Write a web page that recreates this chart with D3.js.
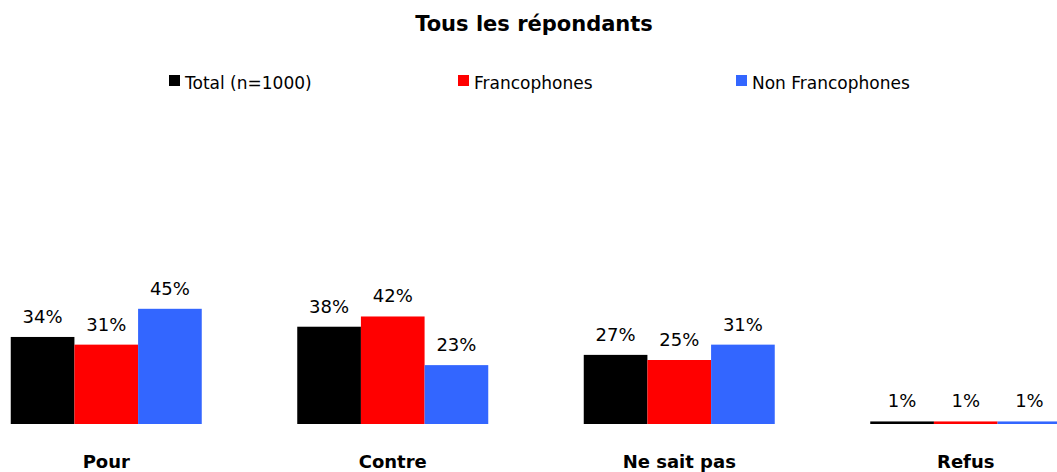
<!DOCTYPE html>
<html>
<head>
<meta charset="utf-8">
<script src="https://cdn.jsdelivr.net/npm/d3@7"></script>
<style>
  body { margin: 0; background: #fff; }
  svg { display: block; font-family: "DejaVu Sans", Verdana, sans-serif; }
</style>
</head>
<body>
<div class="container"></div>
<script>
const width = 1057;
const height = 472;
const categories = ['Pour', 'Contre', 'Ne sait pas', 'Refus'];
const seriesNames = ['Total (n=1000)', 'Francophones', 'Non Francophones'];
const seriesColors = ['#000000', '#ff0000', '#3366ff'];
const totalValues = [34, 38, 27, 1];
const francoValues = [31, 42, 25, 1];
const nonFrancoValues = [45, 23, 31, 1];
const title = 'Tous les répondants';

const allValues = [totalValues, francoValues, nonFrancoValues];
const rows = categories.map((c, i) => ({
    cat: c,
    vals: seriesNames.map((s, j) => ({ series: j, value: allValues[j][i] })),
}));

// plot area runs a bit past both edges, like the original
const x0 = d3.scaleBand().domain(categories).range([-37, 1109]);
const step = x0.bandwidth();
const x1 = d3.scaleBand().domain(d3.range(seriesNames.length)).range([step / 6, step * 5 / 6]);
const y = d3.scaleLinear().domain([0, 100]).range([424, 168]);

const svg = d3.select('.container')
    .append('svg')
    .attr('width', width)
    .attr('height', height);

svg.append('text')
    .attr('x', 534)
    .attr('y', 31)
    .attr('text-anchor', 'middle')
    .attr('font-weight', 'bold')
    .attr('font-size', 21)
    .text(title);

// legend
const legendX = [169, 458, 736];
const legend = svg.selectAll('.legend')
    .data(seriesNames)
    .enter()
    .append('g')
    .attr('class', 'legend')
    .attr('transform', (d, i) => `translate(${legendX[i]},75)`);
legend.append('rect')
    .attr('width', 11)
    .attr('height', 11)
    .attr('fill', (d, i) => seriesColors[i]);
legend.append('text')
    .attr('x', 16)
    .attr('y', 14)
    .attr('font-size', 17)
    .attr('fill', '#000')
    .text(d => d);

const group = svg.selectAll('.group')
    .data(rows)
    .enter()
    .append('g')
    .attr('class', 'group')
    .attr('transform', d => `translate(${x0(d.cat)},0)`);

group.selectAll('rect')
    .data(d => d.vals)
    .enter()
    .append('rect')
    .attr('x', d => x1(d.series))
    .attr('width', x1.bandwidth())
    .attr('y', d => y(d.value))
    .attr('height', d => y(0) - y(d.value))
    .attr('fill', d => seriesColors[d.series]);

group.selectAll('.val')
    .data(d => d.vals)
    .enter()
    .append('text')
    .attr('class', 'val')
    .attr('x', d => x1(d.series) + x1.bandwidth() / 2)
    .attr('y', d => y(d.value) - 14)
    .attr('text-anchor', 'middle')
    .attr('font-size', 18)
    .text(d => d.value + '%');

group.append('text')
    .attr('x', step / 2)
    .attr('y', 468)
    .attr('text-anchor', 'middle')
    .attr('font-weight', 'bold')
    .attr('font-size', 18)
    .text(d => d.cat);
</script>
</body>
</html>
